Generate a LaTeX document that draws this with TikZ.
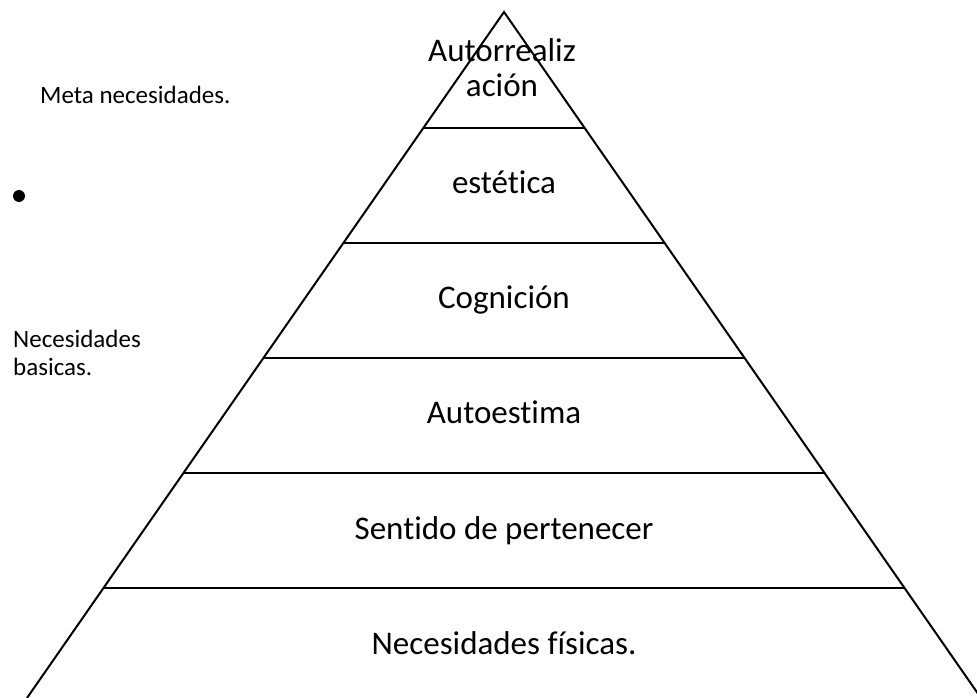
\documentclass[tikz,border=0pt]{standalone}
\usepackage{fontspec}
\setmainfont{Carlito}[Ligatures=NoCommon]
\usetikzlibrary{calc}

\begin{document}
\begin{tikzpicture}[x=1pt, y=-1pt,
    tier/.style={anchor=base, inner sep=0pt, font=\fontsize{33}{35}\selectfont},
    note/.style={anchor=base west, align=left, inner sep=0pt, font=\fontsize{25}{28}\selectfont},
    side/.style={line width=2pt, line join=miter},
    sep/.style={line width=1.5pt},
]
  \clip (0,0) rectangle (977,698);

  % pyramid outline
  \coordinate (apex) at (504,12);
  \coordinate (baseL) at (27,698);
  \coordinate (baseR) at (981,698);
  \draw[side] (baseL) -- (apex) -- (baseR);

  % level separators
  \foreach \i in {1,...,5} {
    \pgfmathsetmacro{\t}{(116+115*(\i-1))/686}
    \draw[sep] ($(apex)!\t!(baseL)$) -- ($(apex)!\t!(baseR)$);
  }

  % levels, top to bottom (base = last line)
  \node[tier, align=center] (selfreal) at (502,97) {Autorrealiz\\ación};
  \node[tier] (aesthetic) at (504,193) {estética};
  \node[tier] (cognition) at (504,308) {Cognición};
  \node[tier] (esteem) at (504,423) {Autoestima};
  \node[tier] (belonging) at (504,539) {Sentido de pertenecer};
  \node[tier] (physical) at (504,654) {Necesidades físicas.};

  % side notes
  \node[note] (meta) at (40,104) {Meta necesidades.};
  \fill (19,196) circle[radius=6] coordinate (dot);
  \node[note] (basic) at (13,375) {Necesidades\\basicas.};
\end{tikzpicture}
\end{document}
